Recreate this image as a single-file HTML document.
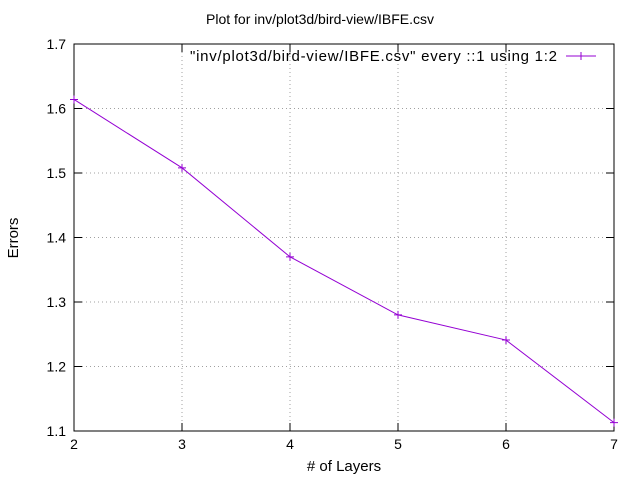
<!DOCTYPE html>
<html><head><meta charset="utf-8"><style>
body{margin:0;background:#fff}
svg{display:block;font-family:"Liberation Sans",sans-serif;font-size:14px}
</style></head><body>
<svg id="chart" width="640" height="480">
<text x="320" y="24" text-anchor="middle">Plot for inv/plot3d/bird-view/IBFE.csv</text>
<text x="18" y="238" text-anchor="middle" transform="rotate(-90 18 238)" style="font-size:15px">Errors</text>
<text x="344" y="471" text-anchor="middle" style="font-size:15px"># of Layers</text>
<g id="grid"></g><g id="ticks"></g>
<rect x="74" y="44" width="540" height="387" fill="none" stroke="#000"/>
<g>
<text x="557" y="61" text-anchor="end" textLength="367" style="font-size:15px">"inv/plot3d/bird-view/IBFE.csv" every ::1 using 1:2</text>
<line x1="566" y1="56" x2="596" y2="56" stroke="#9400d3"/>
<path d="M577 56h8M581 52v8" stroke="#9400d3"/>
</g>
<g id="series"></g>
</svg>
<script>
const categories=[2,3,4,5,6,7];
const values=[1.614,1.508,1.370,1.280,1.241,1.113];
const yTicks=[1.1,1.2,1.3,1.4,1.5,1.6,1.7];
const xTicks=[2,3,4,5,6,7];
const NS="http://www.w3.org/2000/svg";
const X=v=>74+(v-2)/5*540, Y=v=>431-(v-1.1)/0.6*387;
function mk(t,a,p){const e=document.createElementNS(NS,t);for(const k in a)e.setAttribute(k,a[k]);p.appendChild(e);return e;}
const g=document.getElementById('grid'),tk=document.getElementById('ticks'),s=document.getElementById('series');
yTicks.forEach(v=>{const y=Y(v);
 if(v>1.1&&v<1.7){const l=mk('line',{x1:74,x2:614,y1:y,y2:y,stroke:'#a0a0a0','stroke-dasharray':'1,3'},g);
 
 }
 const t=mk('text',{x:66,y:y+5,'text-anchor':'end'},tk);t.textContent=v.toFixed(1);
 
 
 const m=mk('path',{d:`M74 ${y}h8M614 ${y}h-8`,stroke:'#000'},tk);
 
 });
xTicks.forEach(v=>{const x=X(v);
 if(v>2&&v<7){const l=mk('line',{x1:x,x2:x,y1:44,y2:431,stroke:'#a0a0a0','stroke-dasharray':'1,3'},g);
 
 }
 const t=mk('text',{x:x,y:449,'text-anchor':'middle'},tk);t.textContent=v;
 
 
 const m=mk('path',{d:`M${x} 431v-8M${x} 44v8`,stroke:'#000'},tk);
 
 });
const pl=mk('polyline',{points:categories.map((c,i)=>X(c)+','+Y(values[i])).join(' '),fill:'none',stroke:'#9400d3'},s);


categories.forEach((c,i)=>{const x=X(c),y=Y(values[i]);
 const p=mk('path',{d:`M${x-4} ${y}h8M${x} ${y-4}v8`,stroke:'#9400d3'},s);
 
 });
</script>
</body></html>
